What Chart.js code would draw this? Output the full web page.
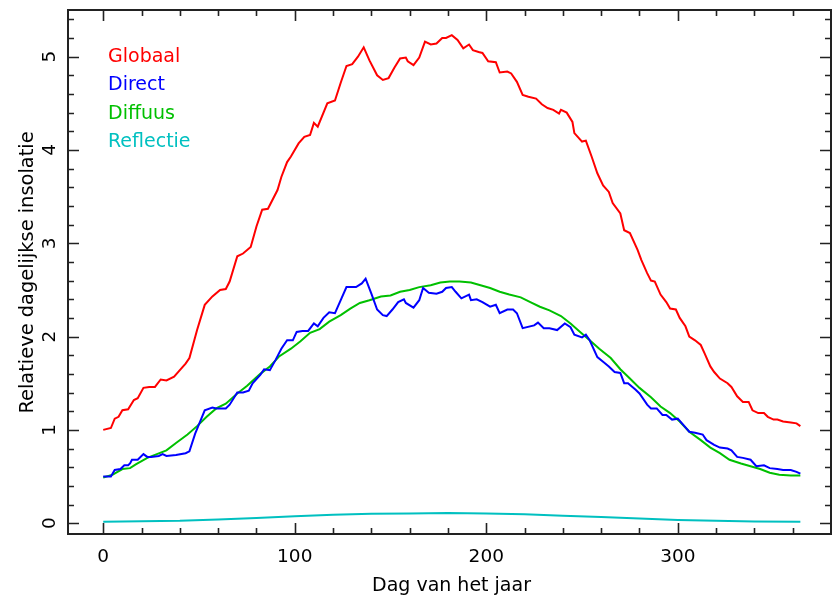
<!DOCTYPE html>
<html>
<head>
<meta charset="utf-8">
<script src="https://cdn.jsdelivr.net/npm/chart.js@4.4.1/dist/chart.umd.min.js"></script>
<style>
html, body { margin: 0; padding: 0; background: #fff; }
canvas { display: block; }
</style>
</head>
<body>
<canvas id="chart" width="832" height="595"></canvas>
<script>
// values (day of year -> relative daily insolation)
const globalDays = [0,4,6,8,10,13,16,18,21,24,27,30,33,37,40,43,45,49,53,57,61,64,66,70,73,77,80,83,86,91,93,96,98,102,105,108,110,112,117,121,124,127,130,133,136,139,143,146,149,152,155,158,159,162,165,168,171,174,177,179,182,185,188,191,193,196,198,201,205,207,211,213,216,219,222,226,229,232,235,238,239,242,245,246,250,252,255,258,261,264,266,270,272,275,279,281,284,286,288,291,294,296,299,301,304,306,309,312,314,317,319,322,326,328,331,334,337,339,342,345,347,350,352,355,359,362,364];
const globalValues = [1.00,1.02,1.12,1.14,1.21,1.22,1.32,1.34,1.45,1.46,1.46,1.54,1.53,1.57,1.64,1.71,1.77,2.07,2.34,2.43,2.50,2.51,2.59,2.86,2.89,2.96,3.18,3.36,3.37,3.57,3.71,3.87,3.93,4.07,4.14,4.16,4.29,4.25,4.50,4.53,4.72,4.90,4.92,5.00,5.10,4.96,4.80,4.75,4.77,4.88,4.98,4.99,4.95,4.91,4.99,5.16,5.13,5.14,5.20,5.20,5.23,5.18,5.09,5.13,5.07,5.05,5.04,4.95,4.94,4.83,4.84,4.82,4.73,4.59,4.57,4.55,4.49,4.45,4.43,4.39,4.43,4.40,4.30,4.18,4.09,4.10,3.93,3.75,3.62,3.55,3.43,3.32,3.14,3.11,2.93,2.82,2.68,2.60,2.59,2.45,2.37,2.30,2.29,2.20,2.11,2.00,1.96,1.91,1.82,1.68,1.62,1.55,1.50,1.46,1.36,1.30,1.30,1.21,1.18,1.18,1.14,1.11,1.11,1.09,1.08,1.07,1.04];

const directDays = [0,4,6,9,11,13,14,15,18,21,23,25,29,31,33,38,43,45,48,51,53,57,59,64,66,70,73,76,78,82,84,87,90,93,96,99,101,104,107,110,112,115,118,121,124,127,132,135,137,140,143,146,148,151,154,157,158,162,165,167,170,174,177,179,182,184,187,191,192,195,198,202,205,207,211,214,216,219,225,227,230,233,237,241,244,246,250,252,254,258,261,264,267,270,272,274,278,280,284,286,289,292,294,297,300,303,306,309,313,315,319,322,326,328,331,334,338,341,345,348,352,355,359,362,364];
const directValues = [0.50,0.50,0.57,0.58,0.62,0.62,0.64,0.68,0.68,0.74,0.71,0.71,0.72,0.74,0.72,0.73,0.75,0.77,0.96,1.11,1.21,1.24,1.23,1.23,1.27,1.40,1.40,1.42,1.50,1.59,1.65,1.64,1.75,1.87,1.96,1.96,2.05,2.06,2.06,2.14,2.11,2.20,2.26,2.25,2.39,2.53,2.53,2.57,2.62,2.46,2.29,2.23,2.22,2.29,2.37,2.40,2.36,2.31,2.39,2.52,2.47,2.46,2.48,2.52,2.53,2.48,2.41,2.45,2.39,2.40,2.37,2.32,2.34,2.25,2.29,2.29,2.25,2.09,2.12,2.15,2.09,2.09,2.07,2.14,2.10,2.02,1.99,2.02,1.96,1.78,1.73,1.68,1.62,1.61,1.50,1.50,1.43,1.39,1.27,1.23,1.23,1.16,1.16,1.11,1.12,1.05,0.98,0.97,0.95,0.89,0.84,0.81,0.80,0.78,0.71,0.70,0.68,0.61,0.62,0.59,0.58,0.57,0.57,0.55,0.53];

const diffuseDays = [0,5,10,14,17,23,28,33,38,44,49,54,59,64,70,75,82,87,92,98,103,108,113,118,124,129,134,139,145,150,155,160,165,171,176,181,186,192,197,202,207,212,218,223,228,233,239,244,249,254,259,265,270,275,280,286,291,296,301,306,312,317,322,327,333,338,343,348,353,359,364];
const diffuseValues = [0.49,0.52,0.58,0.59,0.63,0.70,0.74,0.78,0.86,0.95,1.04,1.14,1.23,1.28,1.39,1.47,1.60,1.68,1.79,1.87,1.95,2.04,2.08,2.16,2.23,2.30,2.36,2.39,2.43,2.44,2.48,2.50,2.53,2.55,2.58,2.59,2.59,2.58,2.55,2.52,2.48,2.45,2.42,2.37,2.32,2.28,2.22,2.14,2.05,1.96,1.87,1.77,1.65,1.55,1.45,1.35,1.25,1.18,1.09,0.98,0.89,0.81,0.75,0.68,0.64,0.61,0.58,0.54,0.52,0.51,0.51];

const reflectDays = [0,20,40,60,80,100,120,140,160,180,200,220,240,260,280,300,320,340,364];
const reflectValues = [0.015,0.02,0.025,0.04,0.055,0.075,0.09,0.10,0.105,0.11,0.105,0.095,0.08,0.065,0.05,0.035,0.025,0.018,0.015];

const seriesNames = ['Globaal', 'Direct', 'Diffuus', 'Reflectie'];
const seriesColors = ['#ff0000', '#0000ff', '#00c000', '#00c0c0'];
const xTickLabels = [0, 100, 200, 300];
const yTickLabels = [0, 1, 2, 3, 4, 5];

const FONT = '"DejaVu Sans", sans-serif';

const toPoints = (days, vals) => days.map((d, i) => ({ x: d, y: vals[i] }));

const makeSet = (i, days, vals) => ({
    label: seriesNames[i],
    data: toPoints(days, vals),
    borderColor: seriesColors[i],
    borderWidth: 2,
    pointRadius: 0,
    tension: 0,
    fill: false
});

// frame, inward ticks on all four sides, tick labels, titles and the legend
const framePlugin = {
    id: 'frame',
    afterDraw(chart) {
        const { ctx, chartArea: a, scales: { x, y } } = chart;
        ctx.save();
        ctx.strokeStyle = '#222';
        ctx.lineWidth = 1.6;
        ctx.beginPath();
        for (let d = 0; d <= 360; d += 20) {
            const px = Math.round(x.getPixelForValue(d)) + 0.5;
            const len = d % 100 === 0 ? 11 : 6;
            ctx.moveTo(px, a.bottom); ctx.lineTo(px, a.bottom - len);
            ctx.moveTo(px, a.top); ctx.lineTo(px, a.top + len);
        }
        for (let i = 0; i <= 27; i++) {
            const py = Math.round(y.getPixelForValue(i / 5)) + 0.5;
            const len = i % 5 === 0 ? 11 : 6;
            ctx.moveTo(a.left, py); ctx.lineTo(a.left + len, py);
            ctx.moveTo(a.right, py); ctx.lineTo(a.right - len, py);
        }
        ctx.stroke();
        ctx.lineWidth = 2;
        ctx.strokeRect(a.left, a.top, a.right - a.left, a.bottom - a.top);

        ctx.fillStyle = '#000';
        ctx.font = '18.5px ' + FONT;
        ctx.textAlign = 'center';
        ctx.textBaseline = 'alphabetic';
        xTickLabels.forEach(v => ctx.fillText(String(v), x.getPixelForValue(v), 562));
        yTickLabels.forEach(v => {
            ctx.save();
            ctx.translate(55, y.getPixelForValue(v));
            ctx.rotate(-Math.PI / 2);
            ctx.fillText(String(v), 0, 0);
            ctx.restore();
        });

        ctx.font = '19px ' + FONT;
        ctx.fillText('Dag van het jaar', (a.left + a.right) / 2 + 2, 591);
        ctx.save();
        ctx.translate(33, 272.5);
        ctx.rotate(-Math.PI / 2);
        ctx.font = '19.4px ' + FONT;
        ctx.fillText('Relatieve dagelijkse insolatie', 0, 0);
        ctx.restore();

        ctx.textAlign = 'left';
        ctx.font = '19px ' + FONT;
        const baselines = [61.7, 90, 118.5, 147.3];
        seriesNames.forEach((name, i) => {
            ctx.fillStyle = seriesColors[i];
            ctx.fillText(name, 108, baselines[i]);
        });
        ctx.restore();
    }
};

new Chart(document.getElementById('chart'), {
    type: 'line',
    data: {
        datasets: [
            makeSet(0, globalDays, globalValues),
            makeSet(1, directDays, directValues),
            makeSet(2, diffuseDays, diffuseValues),
            makeSet(3, reflectDays, reflectValues)
        ]
    },
    options: {
        responsive: false,
        animation: false,
        devicePixelRatio: 1,
        layout: { padding: { left: 68, right: 1, top: 10, bottom: 61 } },
        plugins: { legend: { display: false }, tooltip: { enabled: false } },
        scales: {
            x: { type: 'linear', min: -18.4, max: 380, display: false },
            y: { type: 'linear', min: -0.116, max: 5.5, display: false }
        }
    },
    plugins: [framePlugin]
});
</script>
</body>
</html>
